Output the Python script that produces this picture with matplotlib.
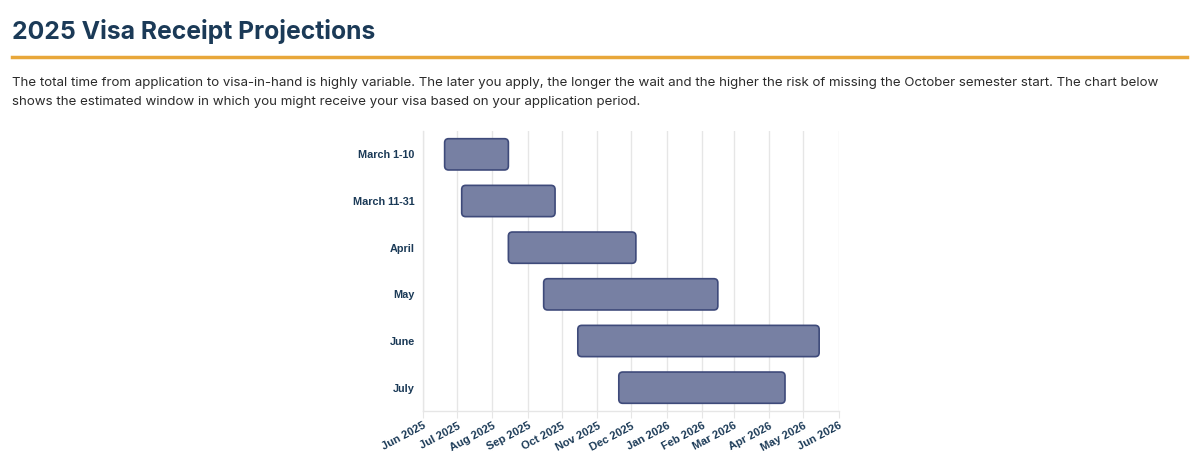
import matplotlib
matplotlib.use("Agg")
import matplotlib.pyplot as plt
import matplotlib.dates as mdates
from matplotlib.patches import FancyBboxPatch
from datetime import date

categories = ["March 1-10", "March 11-31", "April", "May", "June", "July"]
start_dates = ["2025-06-20", "2025-07-05", "2025-08-15", "2025-09-15", "2025-10-15", "2025-11-20"]
end_dates = ["2025-08-15", "2025-09-25", "2025-12-05", "2026-02-15", "2026-05-15", "2026-04-15"]
x_min, x_max = "2025-06-01", "2026-06-01"

title = "2025 Visa Receipt Projections"
para_lines = [
    "The total time from application to visa-in-hand is highly variable. The later you apply, the longer the wait and the higher the risk of missing the October semester start. The chart below",
    "shows the estimated window in which you might receive your visa based on your application period.",
]

navy = "#1b3a57"
fill = "#7780a3"
edge = "#3e4a7a"
grid = "#e6e6e6"

fig = plt.figure(figsize=(12, 4.66), dpi=100)
fig.patch.set_facecolor("white")

fig.text(12/1200, 1 - 31/466, title, fontsize=17.8, fontweight="bold", family="Inter",
         color=navy, va="center", ha="left")
fig.add_artist(plt.Line2D([12/1200, 1187/1200], [1 - 57/466, 1 - 57/466], color="#e8a73a", lw=2.5))
for k, line in enumerate(para_lines):
    fig.text(12/1200, 1 - (83 + 19 * k)/466, line, fontsize=9.55, family="Inter", color="#2b2b2b",
             va="center", ha="left")

ax = fig.add_axes([423/1200, 55/466, 415.5/1200, 280/466])

def d2n(s):
    y, m, d = map(int, s.split("-"))
    return mdates.date2num(date(y, m, d))

bar_h = 0.67
rx = 3.5  # days
asp = (4 / 46.7) / rx
for i, (cat, s, e) in enumerate(zip(categories, start_dates, end_dates)):
    x0 = d2n(s)
    x1 = d2n(e)
    p = FancyBboxPatch((x0, i - bar_h / 2), x1 - x0, bar_h,
                       boxstyle=f"round,pad=0,rounding_size={rx}",
                       mutation_aspect=asp, facecolor=fill, edgecolor=edge, lw=1.2, zorder=3)
    ax.add_patch(p)

ax.set_xlim(d2n(x_min), d2n(x_max))
ax.set_ylim(len(categories) - 0.5, -0.5)
ax.set_yticks(range(len(categories)))
ax.set_yticklabels(categories)
ax.xaxis.set_major_locator(mdates.MonthLocator())
ax.xaxis.set_major_formatter(mdates.DateFormatter("%b %Y"))

for lab in ax.get_yticklabels():
    lab.set_family("Liberation Sans")
    lab.set_fontweight("bold")
    lab.set_fontsize(7.8)
    lab.set_color(navy)
for lab in ax.get_xticklabels():
    lab.set_family("Liberation Sans")
    lab.set_fontweight("bold")
    lab.set_fontsize(8)
    lab.set_color(navy)
    lab.set_rotation(28)
    lab.set_ha("right")
    lab.set_rotation_mode("anchor")

ax.grid(axis="x", color=grid, lw=1, zorder=0)
ax.grid(axis="y", visible=False)
for side in ["top", "right"]:
    ax.spines[side].set_visible(False)
for side in ["left", "bottom"]:
    ax.spines[side].set_color(grid)
    ax.spines[side].set_linewidth(1)
ax.tick_params(axis="y", length=0, pad=6)
ax.tick_params(axis="x", length=5, color=grid, pad=2)

fig.savefig("out.png", dpi=100, facecolor="white")
